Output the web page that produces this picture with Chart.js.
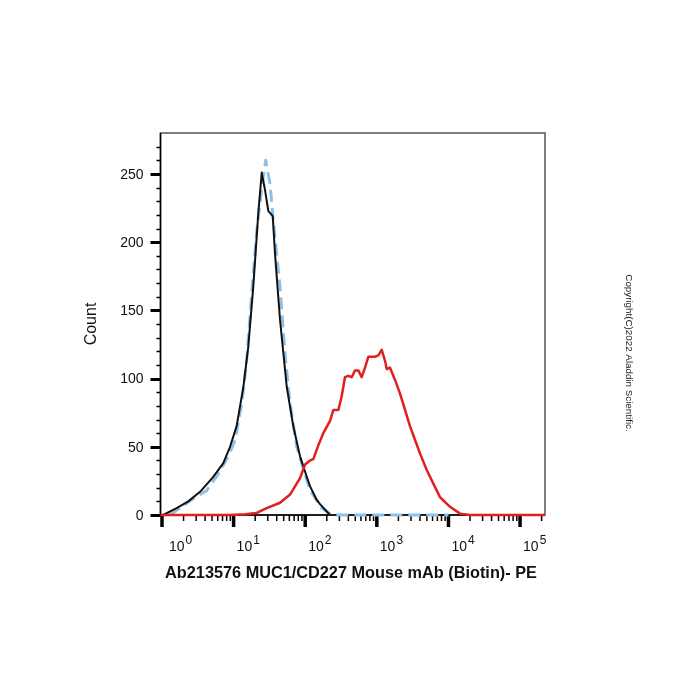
<!DOCTYPE html>
<html>
<head>
<meta charset="utf-8">
<script src="https://cdn.jsdelivr.net/npm/chart.js@4.4.1/dist/chart.umd.min.js"></script>
<style>
  html, body { margin: 0; padding: 0; background: #fff; }
  #wrap { width: 700px; height: 700px; }
</style>
</head>
<body>
<div id="wrap"><canvas id="histChart" width="700" height="700"></canvas></div>
<script>
// Histogram traces (x = PE intensity, y = count)
const blackX = [1.04, 1.60, 2.33, 3.40, 5.20, 7.18, 8.91, 11.0, 13.7, 16.0, 18.8, 22.1, 24.7, 27.5, 30.5, 35.2, 37.9, 44.5, 55.2, 68.2, 84.6, 105, 117, 145, 161, 222];
const blackY = [0, 5, 10, 17, 28, 38, 50, 65, 94, 123, 167, 221, 251, 238, 223, 219, 191, 143, 94, 65, 43, 28, 21, 11, 8, 0];

const blueX = [1.29, 2.74, 4.21, 6.11, 8.43, 10.5, 13.0, 15.2, 17.9, 21.0, 24.7, 28.1, 32.2, 35.8, 44.5, 52.2, 61.4, 76.1, 105, 117, 152, 161, 234, 1000, 10000];
const blueY = [0, 12, 18, 30, 43, 55, 82, 113, 162, 208, 240, 260, 243, 216, 167, 118, 82, 50, 26, 18, 9, 6, 0, 0, 0];

const redX = [0.953, 8.9, 14.5, 21.0, 29.0, 44.5, 61.4, 84.6, 99.4, 117, 130, 152, 179, 222, 247, 290, 323, 359, 400, 446, 496, 552, 615, 684, 761, 849, 944, 1050, 1170, 1302, 1375, 1528, 1795, 2108, 2477, 2910, 3418, 4013, 4977, 6152, 7635, 10520, 14520, 20040, 223000];
const redY = [0, 0, 0.5, 1.5, 5, 9, 15, 27, 37, 40, 41, 51, 60, 69, 77, 77, 87, 101, 102, 101, 106, 106, 101, 108, 116, 116, 116, 117, 121, 113, 107, 108, 99, 89, 77, 65, 55, 45, 33, 23, 13, 6, 1, 0, 0];

// Axis ticks and texts
const xDecades = [1, 10, 100, 1000, 10000, 100000];
const xExponents = ['0', '1', '2', '3', '4', '5'];
const yTicks = [0, 50, 100, 150, 200, 250];
const yTitle = 'Count';
const xTitle = 'Ab213576 MUC1/CD227 Mouse mAb (Biotin)- PE';
const copyright = 'Copyright(C)2022 Aladdin Scientific.';

const X_MIN = 0.953;
const X_MAX = 223000;
const Y_MAX = 280;

const COLORS = {
	black: '#111111',
	blue: '#8fc0e8',
	red: '#e0201e',
	frame: '#555555',
	text: '#111111'
};

const FONT = "'Liberation Sans', Arial, sans-serif";

function toPoints(xs, ys) {
	return xs.map((x, i) => ({ x, y: ys[i] }));
}

// Draws the FlowJo-style frame, tick marks and labels from the chart's scales
const flowAxes = {
	id: 'flowAxes',
	beforeDatasetsDraw(chart) {
		const { ctx, chartArea: a, scales: { x, y } } = chart;
		ctx.save();

		// thin frame on top / right
		ctx.strokeStyle = COLORS.frame;
		ctx.lineWidth = 1.5;
		ctx.strokeRect(a.left, a.top, a.right - a.left, a.bottom - a.top);

		// left and bottom axis lines
		ctx.strokeStyle = '#000';
		ctx.lineWidth = 1.5;
		ctx.beginPath();
		ctx.moveTo(a.left, a.top);
		ctx.lineTo(a.left, a.bottom);
		ctx.lineTo(a.right, a.bottom);
		ctx.stroke();

		// y ticks: majors every 50, minors every 10
		for (let v = 0; v < Y_MAX; v += 10) {
			const py = Math.round(y.getPixelForValue(v)) + 0.5;
			const major = yTicks.includes(v);
			ctx.lineWidth = major ? 3 : 1.5;
			ctx.beginPath();
			ctx.moveTo(a.left - (major ? 10 : 4), py);
			ctx.lineTo(a.left, py);
			ctx.stroke();
		}

		// x ticks: decades major, 2..9 minor
		xDecades.forEach((d) => {
			for (let m = 1; m <= 9; m++) {
				const v = d * m;
				if (v < X_MIN || v > X_MAX) continue;
				const px = x.getPixelForValue(v);
				const major = m === 1;
				ctx.lineWidth = major ? 3.5 : 1.5;
				ctx.beginPath();
				ctx.moveTo(px, a.bottom);
				ctx.lineTo(px, a.bottom + (major ? 12 : 6));
				ctx.stroke();
			}
		});
		ctx.restore();
	},
	afterDraw(chart) {
		const { ctx, chartArea: a, scales: { x, y } } = chart;
		ctx.save();
		ctx.fillStyle = COLORS.text;

		// y tick labels
		ctx.font = `14px ${FONT}`;
		ctx.textAlign = 'right';
		ctx.textBaseline = 'middle';
		yTicks.forEach((v) => {
			ctx.fillText(String(v), a.left - 17, y.getPixelForValue(v) + 1);
		});

		// x tick labels: "10" with raised exponent
		ctx.textAlign = 'left';
		ctx.textBaseline = 'alphabetic';
		xDecades.forEach((d, i) => {
			const px = x.getPixelForValue(d) + (i === 0 ? 7 : 3);
			ctx.font = `14px ${FONT}`;
			ctx.fillText('10', px, 551);
			const w = ctx.measureText('10').width;
			ctx.font = `12px ${FONT}`;
			ctx.fillText(xExponents[i], px + w + 1, 544);
		});

		// axis titles
		ctx.font = `16px ${FONT}`;
		ctx.textAlign = 'center';
		ctx.textBaseline = 'middle';
		ctx.save();
		ctx.translate(92, 324);
		ctx.rotate(-Math.PI / 2);
		ctx.fillText(yTitle, 0, 0);
		ctx.restore();

		ctx.font = `bold 16.3px ${FONT}`;
		ctx.fillText(xTitle, 351, 574);

		// vertical copyright note
		ctx.font = `9.8px ${FONT}`;
		ctx.fillStyle = '#222';
		ctx.translate(629, 353);
		ctx.rotate(Math.PI / 2);
		ctx.fillText(copyright, 0, 0);
		ctx.restore();
	}
};

const ctx = document.getElementById('histChart').getContext('2d');
new Chart(ctx, {
	type: 'line',
	data: {
		datasets: [
			{
				label: 'Ab213576',
				data: toPoints(redX, redY),
				borderColor: COLORS.red,
				borderWidth: 2.5,
				order: 0
			},
			{
				label: 'Unstained',
				data: toPoints(blackX, blackY),
				borderColor: COLORS.black,
				borderWidth: 2,
				order: 1
			},
			{
				label: 'Isotype',
				data: toPoints(blueX, blueY),
				borderColor: COLORS.blue,
				borderWidth: 3,
				borderDash: [12, 6],
				order: 2
			}
		]
	},
	options: {
		responsive: false,
		animation: false,
		events: [],
		layout: { padding: { left: 160.5, top: 133, right: 155, bottom: 185 } },
		elements: {
			point: { radius: 0 },
			line: { tension: 0, fill: false, borderJoinStyle: 'round', borderCapStyle: 'butt' }
		},
		datasets: { line: { clip: 4 } },
		scales: {
			x: { type: 'logarithmic', min: X_MIN, max: X_MAX, display: false },
			y: { type: 'linear', min: 0, max: Y_MAX, display: false }
		},
		plugins: {
			legend: { display: false },
			tooltip: { enabled: false }
		}
	},
	plugins: [flowAxes]
});
</script>
</body>
</html>
